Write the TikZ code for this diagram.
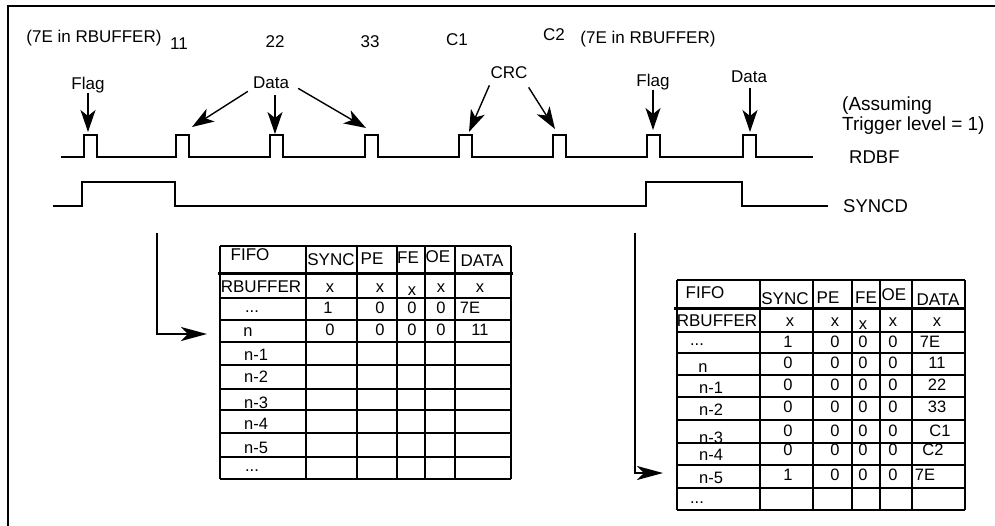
\documentclass[tikz,border=0pt]{standalone}
\usepackage{fontspec}
\setmainfont{Liberation Sans}
\usetikzlibrary{arrows.meta,calc}
\newcommand\tdots{...}
\begin{document}
\begin{tikzpicture}[x=1pt,y=-1pt,
 sig/.style={line width=1.8pt},
 tbl/.style={line width=1.5pt},
 thk/.style={line width=3pt},
 pointer/.style={line width=1.4pt,-{Stealth[length=22pt,width=15pt,inset=6pt]}},
 conn/.style={line width=1.8pt,-{Stealth[length=26pt,width=14pt,inset=7pt]}},
 lbl/.style={inner sep=0pt,anchor=base,font=\fontsize{17}{20}\selectfont},
 plbl/.style={inner sep=0pt,anchor=base,font=\fontsize{17}{20}\selectfont},
 rlbl/.style={inner sep=0pt,anchor=base west,font=\fontsize{19}{22}\selectfont},
 slbl/.style={inner sep=0pt,anchor=west,font=\fontsize{18.5}{22}\selectfont},
 tx/.style={inner sep=0pt,anchor=base,font=\fontsize{16.5}{19}\selectfont},
 txh/.style={tx,font=\fontsize{17}{20}\selectfont},
 txl/.style={tx,anchor=base west},
]
\useasboundingbox (0,0) rectangle (995,525);
% frame
\draw[line width=2pt] (8,530) -- (8,6) -- (1000,6);

% signals
\draw[sig] (61,157) \foreach \x in {84,176,270,365,459,553,647,743}{ -- (\x,157) -- (\x,135) -- (\x+13,135) -- (\x+13,157)} -- (813,157);
\draw[sig] (53,206) -- (82,206) -- (82,182) -- (175,182) -- (175,206) -- (646,206) -- (646,182) -- (742,182) -- (742,206) -- (828,206);

% top labels
\node[lbl] (t7eL) at (94,42) {(7E in RBUFFER)};
\node[lbl] (t11) at (179,49) {11};
\node[lbl] (t22) at (275,47) {22};
\node[lbl] (t33) at (370,47) {33};
\node[lbl] (tC1) at (457,45) {C1};
\node[lbl] (tC2) at (554,40) {C2};
\node[lbl] (t7eR) at (648,43) {(7E in RBUFFER)};

% pointer labels
\node[plbl] (flagA) at (88,89) {Flag};
\node[plbl] (dataA) at (271,88) {Data};
\node[plbl] (crc) at (509,78) {CRC};
\node[plbl] (flagB) at (653,86) {Flag};
\node[plbl] (dataB) at (749,82) {Data};

\coordinate (pA) at (88,132);
\coordinate (pB) at (192,127);
\coordinate (pC) at (275,134);
\coordinate (pD) at (366,128);
\coordinate (pE) at (469,132);
\coordinate (pF) at (555,129);
\coordinate (pG) at (653,130);
\coordinate (pH) at (750,132);

\draw[pointer] (flagA.south) -- (pA);
\draw[pointer] ($(dataA.south west)+(-5,3)$) -- (pB);
\draw[pointer] ($(dataA.south -| pC)+(0,7)$) -- (pC);
\draw[pointer] ($(dataA.south east)+(9,0)$) -- (pD);
\draw[pointer] ($(crc.south west)+(-1,7)$) -- (pE);
\draw[pointer] ($(crc.south east)+(1,9)$) -- (pF);
\draw[pointer] (flagB.south) -- (pG);
\draw[pointer] ($(dataB.south)+(1,6)$) -- (pH);

% right labels
\node[rlbl] (as1) at (842,110) {(Assuming};
\node[rlbl] (as2) at (842,130) {Trigger level = 1)};
\node[slbl] (rdbf) at (849,157) {RDBF};
\node[slbl] (syncd) at (843,206) {SYNCD};

% left table grid
\foreach \y in {246,298,320,342,365,389,410,433,457,479} \draw[tbl] (220,\y) -- (511,\y);
\foreach \x in {220,306,357,397,425,455,511} \draw[tbl] (\x,246) -- (\x,479);
\draw[thk] (218,273) -- (513,273);

% right table grid
\foreach \y in {280,332,353,375,397,420,443,465,488,510} \draw[tbl] (677,\y) -- (965,\y);
\foreach \x in {677,760,813,852,880,912,965} \draw[tbl] (\x,280) -- (\x,510);
\draw[thk] (674,308) -- (966,308);

% left table text
\foreach \x/\y/\t [count=\i] in {250/260/FIFO,331/265/SYNC,372/264/PE,408/263/FE,438/262/OE,482/266/DATA,
  261/292/RBUFFER}
  \node[txh] (LH\i) at (\x,\y) {\t};
\foreach \x/\y/\t [count=\i] in {330/292/x,380/292/x,412/295/x,441/292/x,480/292/x,
  252/312/\tdots,328/313/1,380/313/0,412/313/0,441/313/0,470/313/7E,
  248/336/n,330/335/0,380/335/0,412/335/0,441/335/0,480/335/11,
  252/471/\tdots}
  \node[tx] (L\i) at (\x,\y) {\t};
\foreach \y/\t [count=\i] in {360/n-1,382/n-2,408/n-3,429/n-4,453/n-5}
  \node[txl] (LR\i) at (244,\y) {\t};

% right table text
\foreach \x/\y/\t [count=\i] in {705/298/FIFO,785/304/SYNC,828/303/PE,866/303/FE,894/300/OE,938/305/DATA,
  717/326/RBUFFER}
  \node[txh] (RH\i) at (\x,\y) {\t};
\foreach \x/\y/\t [count=\i] in {790/326/x,835/326/x,863/329/x,893/326/x,937/326/x,
  697/345/\tdots,788/347/1,835/347/0,863/347/0,893/347/0,930/347/7E,
  703/372/n,788/368/0,835/368/0,863/368/0,893/368/0,937/368/11,
  788/390/0,835/390/0,863/390/0,893/390/0,937/390/22,
  788/412/0,835/412/0,863/412/0,893/412/0,937/412/33,
  788/436/0,835/436/0,863/436/0,893/436/0,940/436/C1,
  788/455/0,835/455/0,863/455/0,893/455/0,933/455/C2,
  788/480/1,835/480/0,863/480/0,893/480/0,925/480/7E,
  697/503/\tdots}
  \node[tx] (R\i) at (\x,\y) {\t};
\foreach \y/\t [count=\i] in {393/n-1,415/n-2,443/n-3,460/n-4,483/n-5}
  \node[txl] (RR\i) at (699,\y) {\t};

% connectors
\coordinate (cA) at (157,233);
\coordinate (tA) at (207,334);
\draw[conn] (cA) |- (tA);
\coordinate (cB) at (635,233);
\coordinate (tB) at (663,473);
\draw[conn] (cB) |- (tB);
\end{tikzpicture}
\end{document}
